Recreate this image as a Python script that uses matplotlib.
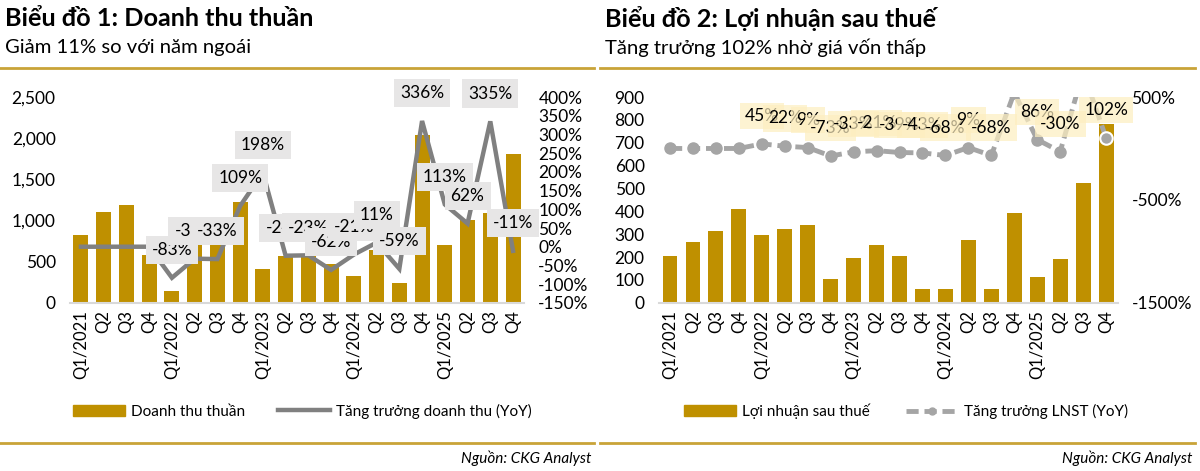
import matplotlib
matplotlib.use("Agg")
import matplotlib.pyplot as plt
from matplotlib.ticker import FuncFormatter, MultipleLocator, FixedLocator
from matplotlib.lines import Line2D
from matplotlib.patches import Patch

plt.rcParams['font.family'] = ['Lato', 'DejaVu Sans']

quarters = ['Q1/2021', 'Q2', 'Q3', 'Q4', 'Q1/2022', 'Q2', 'Q3', 'Q4',
            'Q1/2023', 'Q2', 'Q3', 'Q4', 'Q1/2024', 'Q2', 'Q3', 'Q4',
            'Q1/2025', 'Q2', 'Q3', 'Q4']

# Chart 1: revenue (bn VND) and YoY growth (%)
revenue = [830, 1100, 1185, 578, 140, 750, 766, 1225, 415, 572,
           590, 467, 322, 645, 242, 2035, 705, 1005, 1088, 1805]
revenue_yoy = [0, 0, 0, 0, -83, -32, -33, 109, 198, -24,
               -23, -62, -21, 11, -59, 336, 113, 62, 335, -11]

# Chart 2: net profit (bn VND) and YoY growth (%)
profit = [205, 265, 314, 412, 296, 322, 341, 106, 196, 251,
          206, 61, 61, 276, 62, 392, 115, 193, 524, 784]
profit_yoy = [0, 0, 0, 0, 45, 22, 9, -73, -33, -21,
              -39, -43, -68, 9, -68, 543, 86, -30, 745, 102]

GOLD = '#BF9000'
RULE = '#C9A338'
TICK_FS = 12.5

fig = plt.figure(figsize=(12, 4.71), dpi=100)

def setup(ax, ax2):
    for s in ax.spines.values():
        s.set_visible(False)
    ax.spines['bottom'].set_visible(True)
    ax.spines['bottom'].set_color('#d9d9d9')
    ax.spines['bottom'].set_linewidth(1.5)
    for s in ax2.spines.values():
        s.set_visible(False)
    ax.set_xlim(-0.5, 19.5)
    ax.set_xticks(range(len(quarters)))
    ax.set_xticklabels(quarters, rotation=90, fontsize=12)
    ax.tick_params(axis='x', length=0, pad=5)
    ax.tick_params(axis='y', length=0, pad=10, labelsize=TICK_FS)
    ax2.tick_params(axis='y', length=0, pad=10, labelsize=TICK_FS)

# ---------- chart 1
ax = fig.add_axes([0.058, 0.357, 0.379, 0.437])
ax2 = ax.twinx()
setup(ax, ax2)
x = list(range(len(quarters)))
ax.bar(x, revenue, width=0.66, color=GOLD, zorder=2)
ax.set_ylim(0, 2500)
ax.yaxis.set_major_locator(MultipleLocator(500))
ax.yaxis.set_major_formatter(FuncFormatter(lambda v, p: f'{v:,.0f}'))
ax2.plot(x, revenue_yoy, color='#808080', lw=3.2, solid_joinstyle='miter')
ax2.set_ylim(-150, 400)
ax2.yaxis.set_major_locator(MultipleLocator(50))
ax2.yaxis.set_major_formatter(FuncFormatter(lambda v, p: f'{v:.0f}%'))
for i in range(4, len(x)):
    ax2.annotate(f'{revenue_yoy[i]}%', (x[i], revenue_yoy[i]), xytext=(0, 20),
                 textcoords='offset points', ha='center', va='center', fontsize=12.5,
                 bbox=dict(boxstyle='square,pad=0.35', fc='#e7e6e6', ec='none'))

fig.legend(handles=[Patch(color=GOLD, label='Doanh thu thuần'),
                    Line2D([], [], color='#808080', lw=3.2, label='Tăng trưởng doanh thu (YoY)')],
           loc='center', bbox_to_anchor=(0.252, 0.127), ncol=2, frameon=False,
           fontsize=11, handlelength=3.4, columnspacing=2.2, handletextpad=0.4)

# ---------- chart 2
bx = fig.add_axes([0.5488, 0.357, 0.3825, 0.437])
bx2 = bx.twinx()
setup(bx, bx2)
bx.bar(x, profit, width=0.65, color=GOLD, zorder=2)
bx.set_ylim(0, 900)
bx.yaxis.set_major_locator(MultipleLocator(100))
bx2.plot(x, profit_yoy, color='#a5a5a5', lw=3.5, ls=(0, (2.5, 1.2)),
         marker='o', ms=8, mfc='#a5a5a5', mec='#a5a5a5')
bx2.plot(x[-1], profit_yoy[-1], 'o', ms=9, mfc='#a5a5a5', mec='white', mew=1.5)
bx2.set_ylim(-1500, 500)
bx2.yaxis.set_major_locator(FixedLocator([-1500, -500, 500]))
bx2.yaxis.set_major_formatter(FuncFormatter(lambda v, p: f'{v:.0f}%'))
for i in range(4, len(x)):
    bx2.annotate(f'{profit_yoy[i]}%', (x[i], profit_yoy[i]), xytext=(0, 20),
                 textcoords='offset points', ha='center', va='center', fontsize=12.5,
                 bbox=dict(boxstyle='square,pad=0.3', fc='#fdeec0', ec='none', alpha=0.7))

fig.legend(handles=[Patch(color=GOLD, label='Lợi nhuận sau thuế'),
                    Line2D([], [], color='#a5a5a5', lw=3.5, ls=(0, (2.5, 1.2)),
                           marker='o', ms=5, label='Tăng trưởng LNST (YoY)')],
           loc='center', bbox_to_anchor=(0.755, 0.127), ncol=2, frameon=False,
           fontsize=11, handlelength=3.4, columnspacing=2.4, handletextpad=0.4)

# ---------- headers and footers
for x0, x1, title, sub in [(0.004, 0.495, 'Biểu đồ 1: Doanh thu thuần', 'Giảm 11% so với năm ngoái'),
                           (0.504, 0.996, 'Biểu đồ 2: Lợi nhuận sau thuế', 'Tăng trưởng 102% nhờ giá vốn thấp')]:
    fig.text(x0, 0.960, title, fontsize=18.2, fontweight='bold', va='center')
    fig.text(x0, 0.899, sub, fontsize=14.6, va='center')
    fig.add_artist(Line2D([x0 - 0.004, x1], [0.856, 0.856], color=RULE, lw=2))
    fig.add_artist(Line2D([x0 - 0.004, x1], [0.059, 0.059], color=RULE, lw=2))
    fig.text(x1 - 0.002, 0.027, 'Nguồn: CKG Analyst', fontsize=11, style='italic',
             ha='right', va='center')

plt.savefig('out.png', dpi=100)
